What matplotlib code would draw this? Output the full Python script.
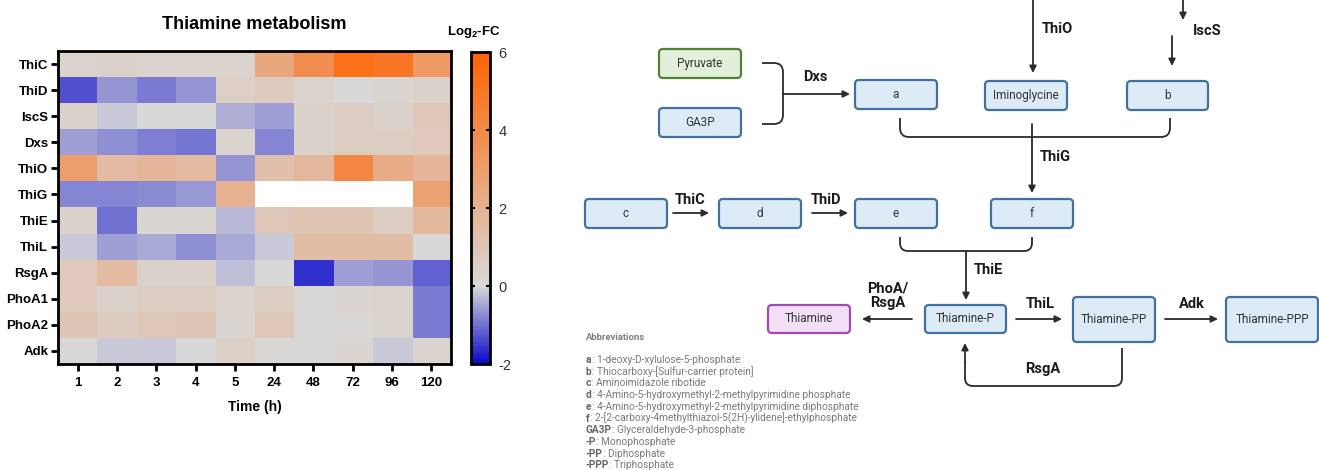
import numpy as np
import matplotlib
matplotlib.use("Agg")
import matplotlib.pyplot as plt
from matplotlib.colors import LinearSegmentedColormap, Normalize
from matplotlib.patches import FancyBboxPatch, PathPatch
from matplotlib.path import Path

plt.rcParams['font.family'] = ['Liberation Sans', 'DejaVu Sans']
plt.rcParams['mathtext.fontset'] = 'custom'
plt.rcParams['mathtext.bf'] = 'Liberation Sans:bold'
plt.rcParams['mathtext.rm'] = 'Liberation Sans'
plt.rcParams['axes.unicode_minus'] = False

genes = ["ThiC", "ThiD", "IscS", "Dxs", "ThiO", "ThiG", "ThiE", "ThiL",
         "RsgA", "PhoA1", "PhoA2", "Adk"]
hours = ["1", "2", "3", "4", "5", "24", "48", "72", "96", "120"]

# log2 fold change per gene (rows) and time point (columns); nan = not detected
thiC = [0.3, 0.4, 0.3, 0.3, 0.3, 2.5, 3.8, 5.3, 5.0, 3.2]
thiD = [-1.3, -0.65, -0.9, -0.65, 0.5, 0.7, 0.3, 0.0, 0.2, 0.4]
iscS = [0.4, -0.15, 0.0, 0.0, -0.4, -0.55, 0.4, 0.6, 0.4, 0.9]
dxs = [-0.55, -0.7, -0.85, -0.95, 0.3, -0.8, 0.4, 0.6, 0.6, 0.8]
thiO = [3.0, 1.5, 1.8, 1.5, -0.65, 1.3, 1.7, 4.2, 2.3, 1.8]
thiG = [-0.8, -0.8, -0.75, -0.6, 2.0, np.nan, np.nan, np.nan, np.nan, 2.8]
thiE = [0.4, -1.0, 0.2, 0.2, -0.3, 0.9, 1.0, 1.0, 0.6, 1.6]
thiL = [-0.15, -0.55, -0.45, -0.7, -0.45, -0.15, 1.4, 1.4, 1.4, 0.0]
rsgA = [0.8, 1.5, 0.4, 0.4, -0.25, 0.0, -1.6, -0.55, -0.65, -1.15]
phoA1 = [0.8, 0.4, 0.6, 0.6, 0.3, 0.6, 0.1, 0.2, 0.3, -0.9]
phoA2 = [1.0, 0.7, 0.9, 1.0, 0.2, 0.9, 0.1, 0.1, 0.3, -0.9]
adk = [0.1, -0.15, -0.15, 0.0, 0.5, 0.1, 0.1, 0.2, -0.15, 0.3]

cbar_ticks = [-2, 0, 2, 4, 6]

abbrev_keys = ["a", "b", "c", "d", "e", "f", "GA3P", "-P", "-PP", "-PPP"]
abbrev_names = [
    "1-deoxy-D-xylulose-5-phosphate",
    "Thiocarboxy-[Sulfur-carrier protein]",
    "Aminoimidazole ribotide",
    "4-Amino-5-hydroxymethyl-2-methylpyrimidine phosphate",
    "4-Amino-5-hydroxymethyl-2-methylpyrimidine diphosphate",
    "2-[2-carboxy-4methylthiazol-5(2H)-ylidene]-ethylphosphate",
    "Glyceraldehyde-3-phosphate",
    "Monophosphate",
    "Diphosphate",
    "Triphosphate",
]

W, H = 1319, 470
fig = plt.figure(figsize=(W / 100, H / 100), dpi=100)


def fig_rect(x0, y0, x1, y1):
    return [x0 / W, 1 - y1 / H, (x1 - x0) / W, (y1 - y0) / H]


# ---------------- heatmap ----------------
data = np.array([thiC, thiD, iscS, dxs, thiO, thiG, thiE, thiL,
                 rsgA, phoA1, phoA2, adk])
# grey sits at 0, a quarter of the way up the -2..6 range
cmap = LinearSegmentedColormap.from_list(
    "bgo", [(0.0, "#0A0ACC"), (0.25, "#D9D9D9"), (1.0, "#FF6400")])
cmap.set_bad("white")
norm = Normalize(vmin=-2, vmax=6)

ax = fig.add_axes(fig_rect(58, 51, 451, 364))
im = ax.imshow(np.ma.masked_invalid(data), cmap=cmap, norm=norm,
               aspect="auto", interpolation="nearest")
ax.set_xticks(range(len(hours)))
ax.set_xticklabels(hours, fontweight="bold", fontsize=9.5)
ax.set_yticks(range(len(genes)))
ax.set_yticklabels(genes, fontweight="bold", fontsize=9.5)
ax.tick_params(length=5, width=2, pad=2)
ax.tick_params(axis="x", pad=4)
for s in ax.spines.values():
    s.set_linewidth(2)
ax.set_xlabel("Time (h)", fontweight="bold", fontsize=10, labelpad=8)
ax.set_title("Thiamine metabolism", fontweight="bold", fontsize=13, pad=16)

cax = fig.add_axes(fig_rect(471, 52, 490, 364))
cb = fig.colorbar(im, cax=cax, ticks=cbar_ticks)
cb.outline.set_linewidth(2)
cax.tick_params(direction="in", length=3, width=1.5, labelsize=10.5,
                labelcolor="#333333", pad=6, left=True)
fig.text(474 / W, 1 - 32 / H, r"Log$_\mathbf{2}$-FC", ha="center",
         va="center", fontweight="bold", fontsize=9.5)

# ---------------- pathway diagram ----------------
dg = fig.add_axes([0, 0, 1, 1])
dg.set_xlim(0, W)
dg.set_ylim(H, 0)
dg.axis("off")

blue = ("#DDEBF7", "#41719C")
green = ("#E2F0D9", "#548235")
purple = ("#F3DEF7", "#A04BB0")
ink = "#2B2B2B"


def box(x0, y0, x1, y1, label, colors=blue):
    fc, ec = colors
    dg.add_patch(FancyBboxPatch((x0, y0), x1 - x0, y1 - y0,
                                boxstyle="round,pad=0,rounding_size=4",
                                fc=fc, ec=ec, lw=1.6))
    dg.text((x0 + x1) / 2, (y0 + y1) / 2, label, ha="center", va="center",
            fontsize=8.5, color="#333333", family="Roboto")


def arrow(x0, y0, x1, y1):
    dg.annotate("", xy=(x1, y1), xytext=(x0, y0),
                arrowprops=dict(arrowstyle="-|>", color=ink, lw=1.3,
                                mutation_scale=10, shrinkA=0, shrinkB=0))


def label(x, y, s, ha="center"):
    dg.text(x, y, s, ha=ha, va="center", fontsize=10.5, fontweight="bold",
            color="#1A1A1A", family="Roboto", linespacing=1.05)


def rounded(pts, r=8):
    # polyline with quadratic-rounded corners
    verts = [pts[0]]
    codes = [Path.MOVETO]
    for i in range(1, len(pts) - 1):
        p0, p1, p2 = map(np.array, (pts[i - 1], pts[i], pts[i + 1]))
        d1 = (p1 - p0) / np.linalg.norm(p1 - p0)
        d2 = (p2 - p1) / np.linalg.norm(p2 - p1)
        verts += [tuple(p1 - d1 * r), tuple(p1), tuple(p1 + d2 * r)]
        codes += [Path.LINETO, Path.CURVE3, Path.CURVE3]
    verts.append(pts[-1])
    codes.append(Path.LINETO)
    dg.add_patch(PathPatch(Path(verts, codes), fc="none", ec=ink, lw=1.3,
                           capstyle="butt"))


# top row
box(659, 49, 741, 78, "Pyruvate", green)
box(659, 108, 741, 137, "GA3P")
box(855, 80, 937, 109, "a")
box(985, 81, 1067, 110, "Iminoglycine")
box(1127, 81, 1208, 110, "b")

rounded([(762, 63), (783, 63), (783, 124), (762, 124)], r=9)
arrow(783, 94, 850, 94)
label(815, 77, "Dxs")

arrow(1033, 0, 1033, 73)
label(1057, 29, "ThiO")
arrow(1183, 0, 1183, 20)
arrow(1172, 36, 1172, 66)
label(1193, 31, "IscS", ha="left")

rounded([(900, 118), (900, 137), (1170, 137), (1170, 118)], r=9)
arrow(1032, 124, 1032, 193)
label(1055, 157, "ThiG")

# middle row
box(585, 199, 667, 228, "c")
box(719, 199, 801, 228, "d")
box(855, 199, 937, 228, "e")
box(991, 199, 1073, 228, "f")
arrow(673, 213, 709, 213)
label(690, 200, "ThiC")
arrow(812, 213, 848, 213)
label(826, 200, "ThiD")

rounded([(900, 237), (900, 251), (1032, 251), (1032, 237)], r=8)
arrow(966, 251, 966, 300)
label(988, 270, "ThiE")

# bottom row
box(768, 305, 850, 333, "Thiamine", purple)
box(925, 305, 1006, 333, "Thiamine-P")
box(1073, 297, 1155, 342, "Thiamine-PP")
box(1226, 297, 1318, 342, "Thiamine-PPP")
arrow(912, 319, 862, 319)
label(888, 296, "PhoA/\nRsgA")
arrow(1016, 319, 1062, 319)
label(1040, 304, "ThiL")
arrow(1165, 319, 1218, 319)
label(1192, 304, "Adk")

rounded([(1122, 348), (1122, 386), (965, 386), (965, 362)], r=8)
arrow(965, 363, 965, 343)
label(1043, 369, "RsgA")

# abbreviation key
dg.text(586, 338, "Abbreviations", ha="left", va="center", fontsize=6.8,
        fontweight="bold", color="#7F7F7F", family="Roboto")
for i, (k, n) in enumerate(zip(abbrev_keys, abbrev_names)):
    y = 360 + i * 11.7
    t = dg.text(586, y, k, ha="left", va="center", fontsize=7.3,
                fontweight="bold", color="#666666", family="Roboto")
    dg.annotate(": " + n, xy=(1, 0.5), xycoords=t, ha="left", va="center",
                fontsize=7.3, color="#7A7A7A", family="Roboto")

fig.savefig("out.png", dpi=100)
